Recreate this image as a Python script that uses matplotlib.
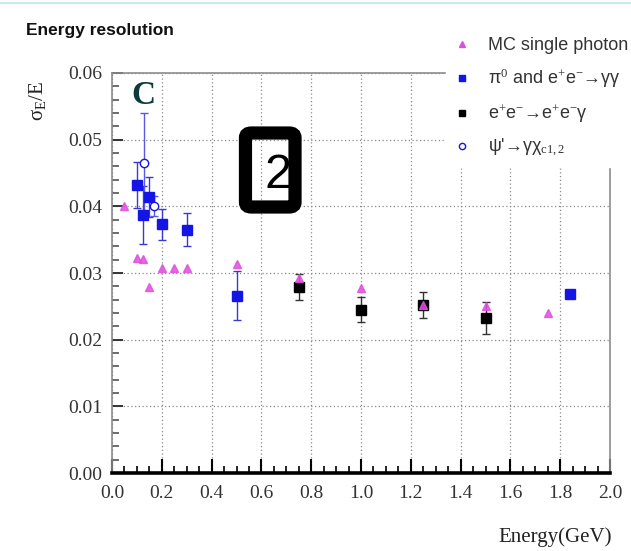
import matplotlib
matplotlib.use("Agg")
import matplotlib.pyplot as plt
from matplotlib.patches import FancyBboxPatch
from matplotlib.lines import Line2D
from matplotlib.ticker import MultipleLocator

plt.rcParams['mathtext.fontset'] = 'custom'
plt.rcParams['mathtext.rm'] = 'Liberation Serif'
plt.rcParams['mathtext.it'] = 'Liberation Serif:italic'

# MC single photon
mc_e = [0.05, 0.1, 0.125, 0.15, 0.2, 0.25, 0.3, 0.5, 0.75, 1.0, 1.25, 1.5, 1.75]
mc_res = [0.0400, 0.0322, 0.0321, 0.0279, 0.0307, 0.0307, 0.0308, 0.0314,
          0.0293, 0.0277, 0.0252, 0.0250, 0.0240]

# pi0 and e+e- -> gamma gamma
pi_e = [0.1, 0.125, 0.15, 0.2, 0.3, 0.5, 1.84]
pi_res = [0.0432, 0.0387, 0.0414, 0.0373, 0.0365, 0.0266, 0.0268]
pi_err = [0.0034, 0.0044, 0.0030, 0.0023, 0.0025, 0.0037, 0.0]

# e+e- -> e+e- gamma
ee_e = [0.75, 1.0, 1.25, 1.5]
ee_res = [0.0279, 0.0245, 0.0252, 0.0233]
ee_err = [0.0020, 0.0019, 0.0020, 0.0024]

# psi' -> gamma chi_c1,2
psi_e = [0.13, 0.17]
psi_res = [0.0465, 0.0400]
psi_err = [0.0075, 0.0015]

W, H = 631, 551
fig = plt.figure(figsize=(W / 100, H / 100), dpi=100)
ax = fig.add_axes([112 / W, 1 - 473 / H, 498 / W, 400 / H])

blue = '#1414e6'
pink = '#e04ee0'

ax.errorbar(pi_e, pi_res, yerr=pi_err, fmt='s', color=blue, ms=6.5,
            ecolor='#3a3ad0', elinewidth=1, capsize=3, zorder=3)
ax.errorbar(psi_e, psi_res, yerr=psi_err, fmt='o', mfc='white', mec=blue,
            ms=6, ecolor='#5a5ae0', elinewidth=1, capsize=3, zorder=3)
ax.errorbar(ee_e, ee_res, yerr=ee_err, fmt='s', color='black', ms=6.5,
            ecolor='#333333', elinewidth=1, capsize=3, zorder=3)
ax.plot(mc_e, mc_res, '^', color=pink, ms=6, alpha=0.85, zorder=4)

ax.set_xlim(0, 2.0)
ax.set_ylim(0, 0.06)
ax.xaxis.set_major_locator(MultipleLocator(0.2))
ax.xaxis.set_minor_locator(MultipleLocator(0.05))
ax.yaxis.set_major_locator(MultipleLocator(0.01))
ax.yaxis.set_minor_locator(MultipleLocator(0.002))
ax.xaxis.set_major_formatter(lambda v, p: f'{v:.1f}')
ax.yaxis.set_major_formatter(lambda v, p: f'{v:.2f}')

ax.grid(which='major', color='#8a8a8a', linestyle=(0, (1, 2)), linewidth=0.9)

for s in ['left', 'top', 'right']:
    ax.spines[s].set_color('#8c8c8c')
    ax.spines[s].set_linewidth(1.2)
ax.spines['bottom'].set_linewidth(2.6)
ax.spines['bottom'].set_color('black')

ax.tick_params(which='both', direction='in', top=False, right=False)
ax.tick_params(axis='x', which='major', length=10, width=1.5, pad=9,
               labelsize=14, labelcolor='#333333')
ax.tick_params(axis='x', which='minor', length=5, width=1.2)
ax.tick_params(axis='y', which='major', length=8, width=1.4, pad=7,
               labelsize=14, labelcolor='#333333', color='#333333')
ax.tick_params(axis='y', which='minor', length=5, width=1.1, color='#444444')
for lab in ax.get_xticklabels() + ax.get_yticklabels():
    lab.set_family('Liberation Serif')

ax.set_xlabel('Energy(GeV)', family='Liberation Serif', fontsize=15,
              color='#222222')
ax.xaxis.set_label_coords(0.89, -0.16)
ax.xaxis.label.set_verticalalignment('center')

ax.set_ylabel(r'σ$_{\mathrm{E}}$/E', family='Liberation Serif', fontsize=15,
              color='#222222')
ax.yaxis.set_label_coords(-0.15, 0.93)
ax.yaxis.label.set_verticalalignment('center')

ax.text(0.064, 0.9425, 'C', transform=ax.transAxes, family='Liberation Serif',
        fontweight='bold', fontsize=24, color='#0d3b3b', ha='center', va='center')

box = FancyBboxPatch((0.268, 0.665), 0.0995, 0.185, transform=ax.transAxes,
                     boxstyle='round,pad=0,rounding_size=0.012',
                     facecolor='none', edgecolor='black', linewidth=9.5, zorder=5)
ax.add_patch(box)
ax.text(0.333, 0.745, '2', transform=ax.transAxes, family='Liberation Sans',
        fontsize=35, color='black', ha='center', va='center', zorder=6)

fig.text(26 / W, 1 - 30 / H, 'Energy resolution', family='Liberation Sans',
         fontweight='bold', fontsize=12.5, color='#111111', va='center')

handles = [
    Line2D([], [], marker='^', ls='none', color=pink, ms=4.5),
    Line2D([], [], marker='s', ls='none', color=blue, ms=4.5),
    Line2D([], [], marker='s', ls='none', color='black', ms=4.5),
    Line2D([], [], marker='o', ls='none', mfc='white', mec=blue, ms=4.5),
]
labels = ['MC single photon',
          'π$^{0}$ and e$^{+}$e$^{-}$→γγ',
          'e$^{+}$e$^{-}$→e$^{+}$e$^{-}$γ',
          "ψ'→γχ$_{\\mathrm{c1,2}}$"]
leg = fig.legend(handles, labels, loc='upper left',
                 bbox_to_anchor=(446 / W, 1 - 30 / H),
                 prop={'family': 'Liberation Sans', 'size': 13},
                 frameon=True, facecolor='white', edgecolor='white', framealpha=1,
                 fancybox=False, handlelength=1.0, handletextpad=0.9,
                 labelspacing=0.68, borderpad=0.4, borderaxespad=0)
for t in leg.get_texts():
    t.set_color('#333333')

fig.add_artist(Line2D([0, 1], [1 - 3 / H, 1 - 3 / H], color='#cdeaea', lw=1.5))

fig.savefig('out.png', dpi=100)
